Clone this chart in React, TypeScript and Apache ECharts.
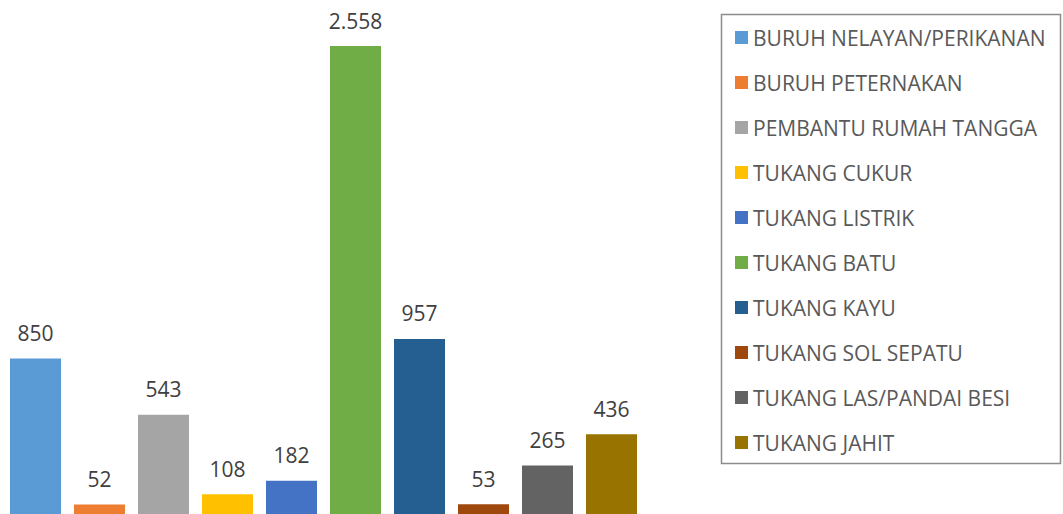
import React, { useEffect, useRef } from "react";
import * as echarts from "echarts";

const categories = [
  "BURUH NELAYAN/PERIKANAN",
  "BURUH PETERNAKAN",
  "PEMBANTU RUMAH TANGGA",
  "TUKANG CUKUR",
  "TUKANG LISTRIK",
  "TUKANG BATU",
  "TUKANG KAYU",
  "TUKANG SOL SEPATU",
  "TUKANG LAS/PANDAI BESI",
  "TUKANG JAHIT",
];
const values = [850, 52, 543, 108, 182, 2558, 957, 53, 265, 436];
const colors = [
  "#5B9BD5",
  "#ED7D31",
  "#A5A5A5",
  "#FFC000",
  "#4472C4",
  "#70AD47",
  "#255E91",
  "#9E480E",
  "#636363",
  "#997300",
];

const fmt = (v: number) => String(v).replace(/\B(?=(\d{3})+(?!\d))/g, ".");

export default function App() {
  const ref = useRef<HTMLDivElement>(null);
  useEffect(() => {
    if (!ref.current) return;
    const chart = echarts.init(ref.current, undefined, { renderer: "svg" });
    const series = categories.map((name, i) => ({
      name,
      type: "bar",
      stack: "all",
      barWidth: 51,
      itemStyle: { color: colors[i] },
      data: categories.map((_, j) => (j === i ? values[i] : "-")),
      label: {
        show: true,
        position: "top",
        distance: 15,
        color: "#404040",
        fontFamily: "Open Sans",
        fontSize: 21,
        formatter: (p: any) => fmt(p.value),
      },
    }));
    chart.setOption({
      animation: false,
      grid: { left: 3.5, width: 640, top: 0, bottom: 0, containLabel: false },
      xAxis: {
        type: "category",
        data: categories,
        axisLine: { show: false },
        axisTick: { show: false },
        axisLabel: { show: false },
      },
      yAxis: {
        type: "value",
        min: 0,
        max: 2810,
        splitLine: { show: false },
        axisLine: { show: false },
        axisLabel: { show: false },
        axisTick: { show: false },
      },
      legend: {
        orient: "vertical",
        left: 735,
        top: 27,
        padding: 0,
        itemWidth: 13,
        itemHeight: 13,
        itemGap: 24,
        selectedMode: false,
        icon: "rect",
        textStyle: { color: "#595959", fontFamily: "Open Sans", fontSize: 21 },
        data: categories,
      },
      graphic: [
        {
          type: "rect",
          shape: { x: 721.5, y: 14.5, width: 339, height: 449 },
          style: { fill: "none", stroke: "#8C8C8C", lineWidth: 1.5 },
        },
      ],
      series,
    });
    return () => chart.dispose();
  }, []);
  return (
    <div
      ref={ref}
      style={{ position: "absolute", left: 0, top: 0, width: 1063, height: 514 }}
    />
  );
}
